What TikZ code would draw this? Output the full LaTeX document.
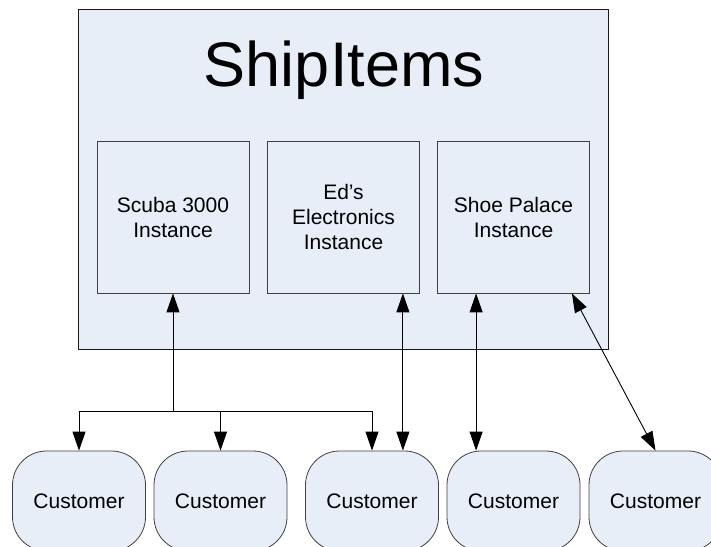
\documentclass[tikz,border=0pt]{standalone}
\usepackage{fontspec}
\setmainfont{Liberation Sans}
\usetikzlibrary{arrows.meta}
\definecolor{panel}{HTML}{E8EEF7}
\begin{document}
\begin{tikzpicture}[x=1pt,y=-1pt,
  container/.style={draw=black!90, line width=1pt, fill=panel, minimum width=530pt, minimum height=340pt, inner sep=0pt},
  inst/.style={draw=black!75, line width=0.8pt, fill=panel, minimum width=152pt, minimum height=152pt, align=center, font=\fontsize{21}{25}\selectfont, inner sep=0pt},
  cust/.style={draw=black!75, line width=0.8pt, fill=panel, rounded corners=34pt, minimum width=133pt, minimum height=100pt, font=\fontsize{21}{25}\selectfont, inner sep=0pt},
  link/.style={draw=black, line width=0.9pt},
  oneway/.style={arrows={-Triangle[length=19pt,width=13pt]}},
  twoway/.style={arrows={Triangle[length=19pt,width=13pt]-Triangle[length=19pt,width=13pt]}}
]
\useasboundingbox (0,0) rectangle (711,546);
\clip (0,0) rectangle (711,546);

% outer service container
\node[container] (ship) at (343,179) {};
\node[anchor=base, font=\fontsize{63}{70}\selectfont] (title) at (344,86) {ShipItems};

% tenant instances
\node[inst] (scuba) at (173,217) {Scuba 3000\\Instance};
\node[inst] (eds) at (343.5,217) {Ed’s\\Electronics\\Instance};
\node[inst] (shoe) at (513.5,217) {Shoe Palace\\Instance};

% customers
\node[cust] (c1) at (79,501) {Customer};
\node[cust] (c2) at (220.5,501) {Customer};
\node[cust] (c3) at (372,501) {Customer};
\node[cust] (c4) at (513.5,501) {Customer};
\node[cust] (c5) at (655.5,501) {Customer};

% Scuba 3000 fan-out
\coordinate (j) at (173,411);
\draw[link, oneway] (j) -- (scuba.south);
\draw[link, oneway] (j) -| (c1.north);
\draw[link, oneway] (j) -| (c2.north);
\draw[link, oneway] (j) -| (c3.north);

% direct links
\coordinate (e1) at ([xshift=-17pt]eds.south east);
\draw[link, twoway] (e1) -- (e1 |- c3.north);
\coordinate (s1) at ([xshift=39pt]shoe.south west);
\draw[link, twoway] (s1) -- (s1 |- c4.north);
\coordinate (s2) at ([xshift=-18pt]shoe.south east);
\draw[link, twoway] (s2) -- (c5.north);
\end{tikzpicture}
\end{document}
